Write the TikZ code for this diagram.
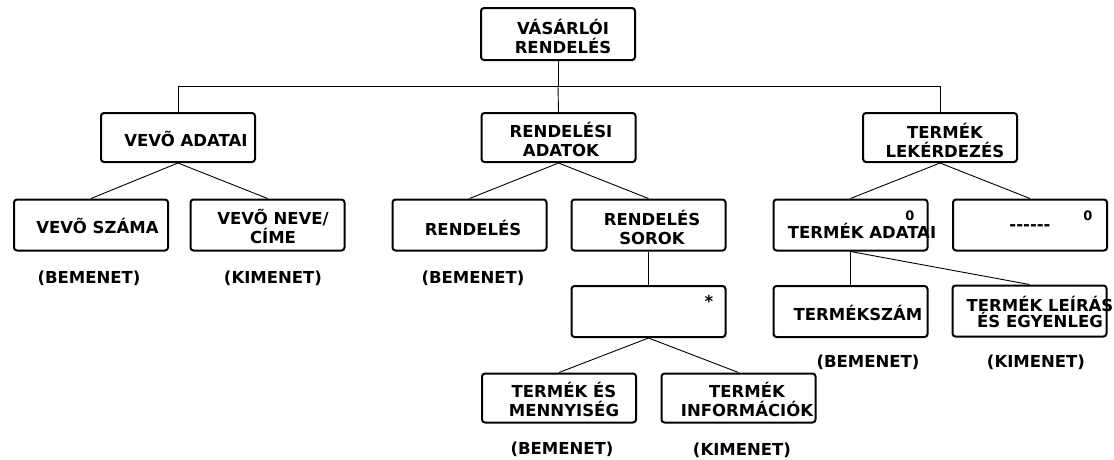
\documentclass[tikz,border=0pt]{standalone}
\usepackage{fontspec}
\setmainfont{DejaVu Sans}
\begin{document}
\begin{tikzpicture}[x=1pt,y=-1pt,
  box/.style={draw, line width=2pt, rounded corners=3pt, inner sep=0pt,
              minimum width=154pt, minimum height=51pt},
  lbl/.style={inner sep=0pt, align=center,
              font=\fontsize{16.5}{19}\selectfont\bfseries},
  tight/.style={inner sep=0pt, align=center,
              font=\fontsize{16.5}{12.5}\selectfont\bfseries},
  mark0/.style={inner sep=0pt, font=\fontsize{13}{13}\selectfont\bfseries},
  link/.style={line width=0.9pt}]
\useasboundingbox (0,0) rectangle (1114,459);

% boxes
\node[box, minimum height=52pt] (top)   at (558,34)    {};
\node[box, minimum height=49pt] (vevo)  at (178,137.5) {};
\node[box, minimum height=49pt] (rend)  at (558.5,137.5) {};
\node[box, minimum height=49pt] (term)  at (940,137.5) {};
\node[box] (vszam)    at (91,225)    {};
\node[box] (vnev)     at (267.5,225) {};
\node[box] (rendeles) at (469.5,225) {};
\node[box] (sorok)    at (648.5,225) {};
\node[box] (tadat)    at (850.5,225) {};
\node[box] (dash)     at (1030,225)  {};
\node[box] (star)     at (648.5,311.5) {};
\node[box, minimum height=49pt] (tes)   at (559,398)   {};
\node[box, minimum height=49pt] (tinfo) at (738.5,398) {};
\node[box] (tszam)    at (850.5,311.5) {};
\node[box] (tleir)    at (1029.5,311)  {};

% box texts
\node[lbl] (xtop)   at (563,36)    {VÁSÁRLÓI\\RENDELÉS};
\node[lbl] (xvevo)  at (186,139)   {VEVÕ ADATAI};
\node[lbl] (xrend)  at (561,139)   {RENDELÉSI\\ADATOK};
\node[lbl] (xterm)  at (945,140)   {TERMÉK\\LEKÉRDEZÉS};
\node[lbl] (xvszam) at (97.5,226)  {VEVÕ SZÁMA};
\node[lbl] (xvnev)  at (273,226)   {VEVÕ NEVE/\\CÍME};
\node[lbl] (xrendeles) at (473,228) {RENDELÉS};
\node[lbl] (xsorok) at (652,227)   {RENDELÉS\\SOROK};
\node[lbl] (xtadat) at (862,231)   {TERMÉK ADATAI};
\node[mark0] (ztadat) at (910,216)  {0};
\node[lbl] (xdash)  at (1030,228)  {-\kern0pt-\kern0pt-\kern0pt-\kern0pt-\kern0pt-};
\node[mark0] (zdash) at (1088,216)  {0};
\node[lbl] (xstar)  at (709,301)   {*};
\node[lbl] (xtes)   at (564,399)   {TERMÉK ÉS\\MENNYISÉG};
\node[lbl] (xtinfo) at (747,399)   {TERMÉK\\INFORMÁCIÓK};
\node[lbl] (xtszam) at (858,313)   {TERMÉKSZÁM};
\node[tight] (xtleir) at (1040,312) {TERMÉK LEÍRÁS\\ÉS EGYENLEG};

% input / output captions
\node[lbl] (c1) at (89,278)   {(BEMENET)};
\node[lbl] (c2) at (273,278)  {(KIMENET)};
\node[lbl] (c3) at (473,278)  {(BEMENET)};
\node[lbl] (c4) at (868,362)  {(BEMENET)};
\node[lbl] (c5) at (1036,362) {(KIMENET)};
\node[lbl] (c6) at (562,449)  {(BEMENET)};
\node[lbl] (c7) at (742,450)  {(KIMENET)};

% top-level bus
\coordinate (busL) at (178,86);
\coordinate (busM) at (558,86);
\coordinate (busR) at (940,86);
\draw[link] (top.south) -- (busM);
\draw[link] (vevo.north) -- (busL) -- (busR) -- (term.north);
\draw[link] (busM) -- (rend.north);

% branches
\draw[link] (vevo.south) -- (vszam.north);
\draw[link] (vevo.south) -- (vnev.north);
\draw[link] (rend.south) -- (rendeles.north);
\draw[link] (rend.south) -- (sorok.north);
\draw[link] (term.south) -- (tadat.north);
\draw[link] (term.south) -- (dash.north);
\draw[link] (sorok.south) -- (star.north);
\draw[link] (star.south) -- (tes.north);
\draw[link] (star.south) -- (tinfo.north);
\draw[link] (tadat.south) -- (tszam.north);
\draw[link] (tadat.south) -- (tleir.north);
\end{tikzpicture}
\end{document}
